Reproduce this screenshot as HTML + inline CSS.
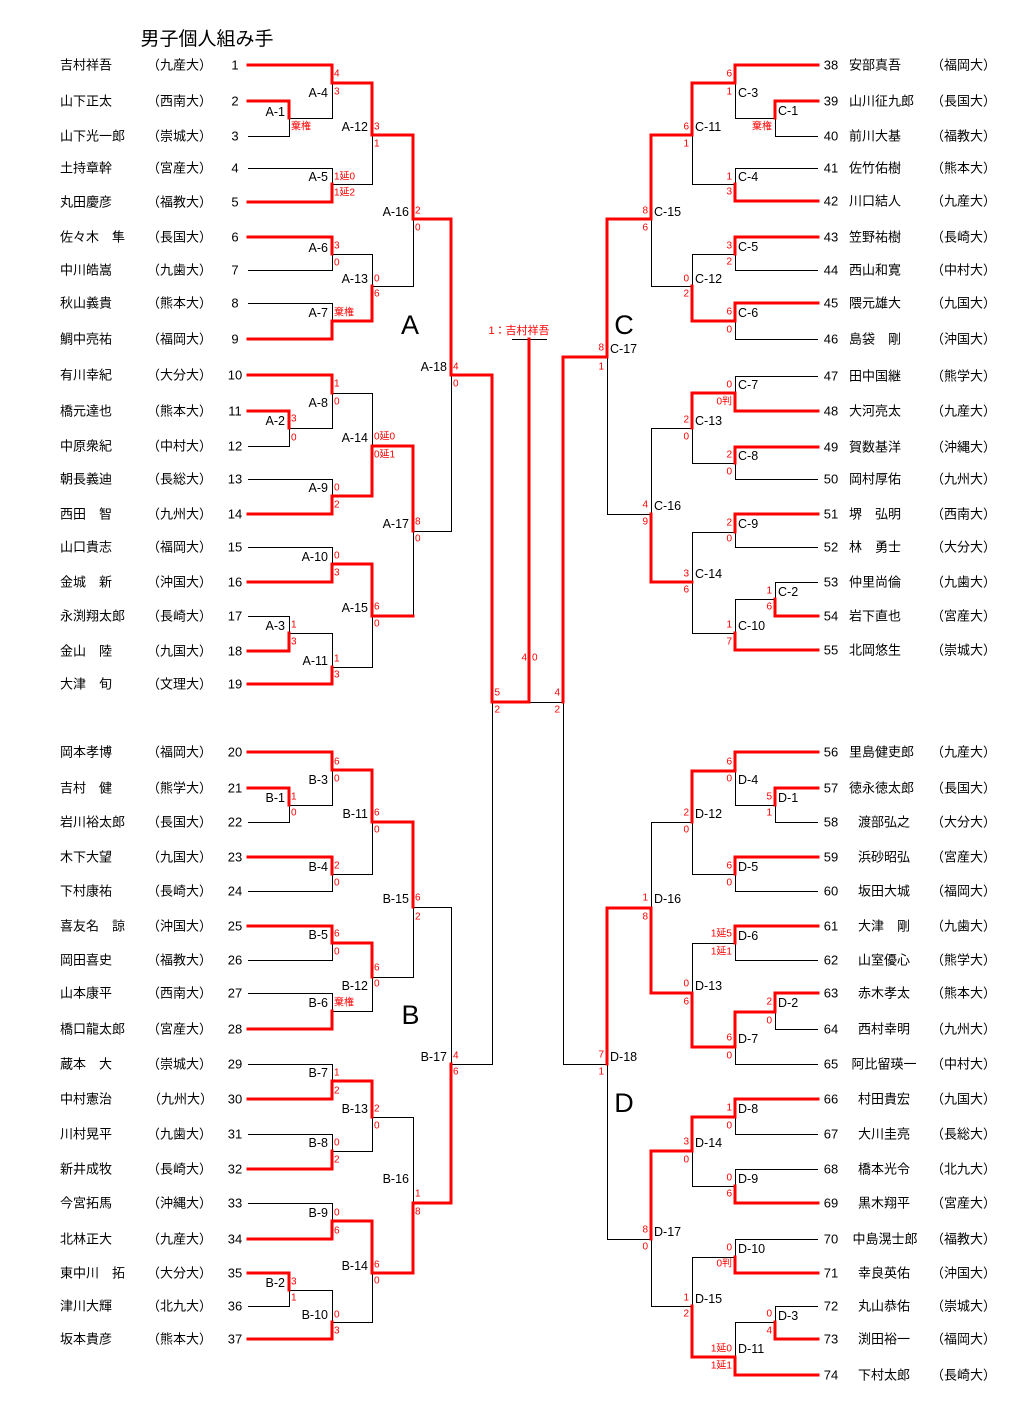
<!DOCTYPE html>
<html><head><meta charset="utf-8"><style>
html,body{margin:0;padding:0;background:#fff;}
svg{display:block;}
text{dominant-baseline:central;font-family:"Liberation Sans","Noto Sans CJK JP",sans-serif;}
.n{font-size:13px;fill:#000;}
.num{font-size:13px;text-anchor:middle;fill:#000;}
.lb{font-size:12.5px;fill:#000;}
.le{font-size:12.5px;text-anchor:end;fill:#000;}
.s,.s text{font-size:10px;fill:#f00;}
.se,.se text{font-size:10px;fill:#f00;text-anchor:end;}
.big{font-size:27px;text-anchor:middle;fill:#000;}
.k{fill:none;stroke:#000;stroke-width:1;}
.r{fill:none;stroke:#f00;stroke-width:3;stroke-linecap:square;stroke-linejoin:miter;}
</style></head><body>
<svg width="1028" height="1420" viewBox="0 0 1028 1420" xmlns="http://www.w3.org/2000/svg">
<rect width="1028" height="1420" fill="#fff"/>
<text x="140.5" y="39.5" style="font-size:19px;fill:#000">男子個人組み手</text>

<!-- black lines -->
<path class="k" d="
M248 136.5H289.5V118.5H332.5V83.5
M248 168.5H332.5V184.5H372.5V135.5
M248 270.5H332.5V254.5H372.5V286.5H413.5V219.5
M248 303.5H332.5V321.5
M248 446.5H289.5V428.5H332.5V393.5H372.5V446.5
M248 479.5H332.5V496.5
M248 547.5H332.5V564.5
M248 616.5H289.5V633.5H332.5V667.5H372.5V616.5
M413.5 616.5V531.5H451.5V375.5
M492.5 702V1064.5H451.5V907.5H413.5V977.5H372.5V1011.5H332.5V993.5H248
M529 702.5H563.5V1064.5H607.5V1239.5H651.5V1306.5H692.5V1257.5H735.5V1239.5H818
M248 822.5H289.5V805.5H332.5V770.5
M248 891.5H332.5V874.5H372.5V822.5
M248 960.5H332.5V943.5
M248 1064.5H332.5V1081.5
M248 1134.5H332.5V1151.5H372.5V1117.5H413.5V1203.5
M248 1203.5H332.5V1221.5
M248 1306.5H289.5V1290.5H332.5V1322.5H372.5V1273.5
M818 136.5H775.5V118.5H735.5V83.5
M818 168.5H735.5V184.5H692.5V135.5
M818 270.5H735.5V254.5H692.5V286.5H651.5V219.5
M818 339.5H735.5V321.5
M818 376.5H735.5V393.5
M818 479.5H735.5V463.5H692.5V428.5H651.5V514.5H607.5V357.5
M818 547.5H735.5V532.5H692.5V633.5H735.5V599.5H775.5V582.5H818
M818 822.5H775.5V805.5H735.5V771.5
M818 891.5H735.5V874.5H692.5V822.5H651.5V908.5
M818 960.5H735.5V943.5H692.5V993.5
M818 1029.5H775.5V1012.5
M818 1064.5H735.5V1047.5
M818 1134.5H735.5V1117.5
M818 1169.5H735.5V1186.5H692.5V1151.5
M818 1306.5H775.5V1322.5H735.5V1357.5
M512 339.5H547
"/>

<!-- red lines -->
<path class="r" d="
M248 65H332V83H372V135H413V219H451V375H492V702H529
M529 339V702
M563 702V357H607V219H651V135H692V83H735V65H818
M248 101H289V118
M248 202H332V184
M248 237H332V254
M248 339H332V321H372V286
M248 375H332V393
M248 411H289V428
M248 514H332V496H372V446H413V531
M248 582H332V564H372V616H413
M248 651H289V633
M248 684H332V667
M248 752H332V770H372V822H413V907
M248 788H289V805
M248 857H332V874
M248 926H332V943H372V977
M248 1029H332V1011
M248 1099H332V1081H372V1117
M248 1169H332V1151
M248 1239H332V1221H372V1273H413V1203H451V1064
M248 1273H289V1290
M248 1339H332V1322
M818 101H775V118
M818 201H735V184
M818 237H735V254
M818 303H735V321H692V286
M818 411H735V393H692V428
M818 447H735V463
M818 514H735V532
M818 616H775V599
M818 650H735V633
M692 582H651V514
M818 752H735V771H692V822
M818 788H775V805
M818 857H735V874
M818 926H735V943
M818 993H775V1012H735V1047H692V993H651V908H607V1064
M818 1099H735V1117H692V1151H651V1239
M818 1203H735V1186
M818 1273H735V1257
M818 1339H775V1322
M818 1375H735V1357H692V1306
"/>

<!-- big letters -->
<text class="big" x="410" y="325">A</text>
<text class="big" x="410.5" y="1015">B</text>
<text class="big" x="624" y="325">C</text>
<text class="big" x="624" y="1103">D</text>

<!-- winner -->
<text x="519" y="331" style="font-size:11px;fill:#f00;text-anchor:middle">1：吉村祥吾</text>
<text class="se" x="527" y="658">4</text><text class="s" x="532" y="658">0</text>
<text class="s" x="494.5" y="693">5</text><text class="s" x="494.5" y="710">2</text>
<text class="se" x="560" y="693">4</text><text class="se" x="560" y="710">2</text>

<!-- left names -->
<g class="n">
<text x="60" y="65">吉村祥吾</text><text x="147" y="65">（九産大）</text>
<text x="60" y="101">山下正太</text><text x="147" y="101">（西南大）</text>
<text x="60" y="136">山下光一郎</text><text x="147" y="136">（崇城大）</text>
<text x="60" y="168">土持章幹</text><text x="147" y="168">（宮産大）</text>
<text x="60" y="202">丸田慶彦</text><text x="147" y="202">（福教大）</text>
<text x="60" y="237">佐々木　隼</text><text x="147" y="237">（長国大）</text>
<text x="60" y="270">中川皓嵩</text><text x="147" y="270">（九歯大）</text>
<text x="60" y="303">秋山義貴</text><text x="147" y="303">（熊本大）</text>
<text x="60" y="339">鯛中亮祐</text><text x="147" y="339">（福岡大）</text>
<text x="60" y="375">有川幸紀</text><text x="147" y="375">（大分大）</text>
<text x="60" y="411">橋元達也</text><text x="147" y="411">（熊本大）</text>
<text x="60" y="446">中原衆紀</text><text x="147" y="446">（中村大）</text>
<text x="60" y="479">朝長義迪</text><text x="147" y="479">（長総大）</text>
<text x="60" y="514">西田　智</text><text x="147" y="514">（九州大）</text>
<text x="60" y="547">山口貴志</text><text x="147" y="547">（福岡大）</text>
<text x="60" y="582">金城　新</text><text x="147" y="582">（沖国大）</text>
<text x="60" y="616">永渕翔太郎</text><text x="147" y="616">（長崎大）</text>
<text x="60" y="651">金山　陸</text><text x="147" y="651">（九国大）</text>
<text x="60" y="684">大津　旬</text><text x="147" y="684">（文理大）</text>
<text x="60" y="752">岡本孝博</text><text x="147" y="752">（福岡大）</text>
<text x="60" y="788">吉村　健</text><text x="147" y="788">（熊学大）</text>
<text x="60" y="822">岩川裕太郎</text><text x="147" y="822">（長国大）</text>
<text x="60" y="857">木下大望</text><text x="147" y="857">（九国大）</text>
<text x="60" y="891">下村康祐</text><text x="147" y="891">（長崎大）</text>
<text x="60" y="926">喜友名　諒</text><text x="147" y="926">（沖国大）</text>
<text x="60" y="960">岡田喜史</text><text x="147" y="960">（福教大）</text>
<text x="60" y="993">山本康平</text><text x="147" y="993">（西南大）</text>
<text x="60" y="1029">橋口龍太郎</text><text x="147" y="1029">（宮産大）</text>
<text x="60" y="1064">蔵本　大</text><text x="147" y="1064">（崇城大）</text>
<text x="60" y="1099">中村憲治</text><text x="148" y="1099">（九州大）</text>
<text x="60" y="1134">川村晃平</text><text x="147" y="1134">（九歯大）</text>
<text x="60" y="1169">新井成牧</text><text x="147" y="1169">（長崎大）</text>
<text x="60" y="1203">今宮拓馬</text><text x="147" y="1203">（沖縄大）</text>
<text x="60" y="1239">北林正大</text><text x="147" y="1239">（九産大）</text>
<text x="60" y="1273">東中川　拓</text><text x="147" y="1273">（大分大）</text>
<text x="60" y="1306">津川大輝</text><text x="147" y="1306">（北九大）</text>
<text x="60" y="1339">坂本貴彦</text><text x="147" y="1339">（熊本大）</text>
</g>
<g class="num">
<text x="235" y="65">1</text><text x="235" y="101">2</text><text x="235" y="136">3</text><text x="235" y="168">4</text><text x="235" y="202">5</text><text x="235" y="237">6</text><text x="235" y="270">7</text><text x="235" y="303">8</text><text x="235" y="339">9</text><text x="235" y="375">10</text><text x="235" y="411">11</text><text x="235" y="446">12</text><text x="235" y="479">13</text><text x="235" y="514">14</text><text x="235" y="547">15</text><text x="235" y="582">16</text><text x="235" y="616">17</text><text x="235" y="651">18</text><text x="235" y="684">19</text>
<text x="235" y="752">20</text><text x="235" y="788">21</text><text x="235" y="822">22</text><text x="235" y="857">23</text><text x="235" y="891">24</text><text x="235" y="926">25</text><text x="235" y="960">26</text><text x="235" y="993">27</text><text x="235" y="1029">28</text><text x="235" y="1064">29</text><text x="235" y="1099">30</text><text x="235" y="1134">31</text><text x="235" y="1169">32</text><text x="235" y="1203">33</text><text x="235" y="1239">34</text><text x="235" y="1273">35</text><text x="235" y="1306">36</text><text x="235" y="1339">37</text>
<text x="831" y="65">38</text><text x="831" y="101">39</text><text x="831" y="136">40</text><text x="831" y="168">41</text><text x="831" y="201">42</text><text x="831" y="237">43</text><text x="831" y="270">44</text><text x="831" y="303">45</text><text x="831" y="339">46</text><text x="831" y="376">47</text><text x="831" y="411">48</text><text x="831" y="447">49</text><text x="831" y="479">50</text><text x="831" y="514">51</text><text x="831" y="547">52</text><text x="831" y="582">53</text><text x="831" y="616">54</text><text x="831" y="650">55</text>
<text x="831" y="752">56</text><text x="831" y="788">57</text><text x="831" y="822">58</text><text x="831" y="857">59</text><text x="831" y="891">60</text><text x="831" y="926">61</text><text x="831" y="960">62</text><text x="831" y="993">63</text><text x="831" y="1029">64</text><text x="831" y="1064">65</text><text x="831" y="1099">66</text><text x="831" y="1134">67</text><text x="831" y="1169">68</text><text x="831" y="1203">69</text><text x="831" y="1239">70</text><text x="831" y="1273">71</text><text x="831" y="1306">72</text><text x="831" y="1339">73</text><text x="831" y="1375">74</text>
</g>

<!-- right names -->
<g class="n">
<text x="849" y="65">安部真吾</text><text x="931" y="65">（福岡大）</text>
<text x="849" y="101">山川征九郎</text><text x="931" y="101">（長国大）</text>
<text x="849" y="136">前川大基</text><text x="931" y="136">（福教大）</text>
<text x="849" y="168">佐竹佑樹</text><text x="931" y="168">（熊本大）</text>
<text x="849" y="201">川口結人</text><text x="931" y="201">（九産大）</text>
<text x="849" y="237">笠野祐樹</text><text x="931" y="237">（長崎大）</text>
<text x="849" y="270">西山和寛</text><text x="931" y="270">（中村大）</text>
<text x="849" y="303">隈元雄大</text><text x="931" y="303">（九国大）</text>
<text x="849" y="339">島袋　剛</text><text x="931" y="339">（沖国大）</text>
<text x="849" y="376">田中国継</text><text x="931" y="376">（熊学大）</text>
<text x="849" y="411">大河亮太</text><text x="931" y="411">（九産大）</text>
<text x="849" y="447">賀数基洋</text><text x="931" y="447">（沖縄大）</text>
<text x="849" y="479">岡村厚佑</text><text x="931" y="479">（九州大）</text>
<text x="849" y="514">堺　弘明</text><text x="931" y="514">（西南大）</text>
<text x="849" y="547">林　勇士</text><text x="931" y="547">（大分大）</text>
<text x="849" y="582">仲里尚倫</text><text x="931" y="582">（九歯大）</text>
<text x="849" y="616">岩下直也</text><text x="931" y="616">（宮産大）</text>
<text x="849" y="650">北岡悠生</text><text x="931" y="650">（崇城大）</text>
<text x="849" y="752">里島健吏郎</text><text x="931" y="752">（九産大）</text>
<text x="849" y="788">徳永徳太郎</text><text x="931" y="788">（長国大）</text>
<text x="931" y="822">（大分大）</text>
<text x="931" y="857">（宮産大）</text>
<text x="931" y="891">（福岡大）</text>
<text x="931" y="926">（九歯大）</text>
<text x="931" y="960">（熊学大）</text>
<text x="931" y="993">（熊本大）</text>
<text x="931" y="1029">（九州大）</text>
<text x="931" y="1064">（中村大）</text>
<text x="931" y="1099">（九国大）</text>
<text x="931" y="1134">（長総大）</text>
<text x="931" y="1169">（北九大）</text>
<text x="931" y="1203">（宮産大）</text>
<text x="931" y="1239">（福教大）</text>
<text x="931" y="1273">（沖国大）</text>
<text x="931" y="1306">（崇城大）</text>
<text x="931" y="1339">（福岡大）</text>
<text x="931" y="1375">（長崎大）</text>
</g>
<g class="n" style="text-anchor:middle">
<text x="884" y="822">渡部弘之</text>
<text x="884" y="857">浜砂昭弘</text>
<text x="884" y="891">坂田大城</text>
<text x="884" y="926">大津　剛</text>
<text x="884" y="960">山室優心</text>
<text x="884" y="993">赤木孝太</text>
<text x="884" y="1029">西村幸明</text>
<text x="884" y="1064">阿比留瑛一</text>
<text x="884" y="1099">村田貴宏</text>
<text x="884" y="1134">大川圭亮</text>
<text x="884" y="1169">橋本光令</text>
<text x="884" y="1203">黒木翔平</text>
<text x="885" y="1239">中島滉士郎</text>
<text x="884" y="1273">幸良英佑</text>
<text x="884" y="1306">丸山恭佑</text>
<text x="884" y="1339">渕田裕一</text>
<text x="884" y="1375">下村太郎</text>
</g>

<!-- left labels -->
<g class="le">
<text x="285" y="112">A-1</text><text x="328" y="93">A-4</text><text x="368" y="127">A-12</text><text x="328" y="177">A-5</text><text x="409" y="212">A-16</text><text x="328" y="248">A-6</text><text x="368" y="279">A-13</text><text x="328" y="313">A-7</text><text x="447" y="367">A-18</text><text x="328" y="403">A-8</text><text x="285" y="421">A-2</text><text x="368" y="438">A-14</text><text x="328" y="488">A-9</text><text x="409" y="524">A-17</text><text x="328" y="557">A-10</text><text x="368" y="608">A-15</text><text x="285" y="626">A-3</text><text x="328" y="661">A-11</text>
<text x="328" y="780">B-3</text><text x="285" y="798">B-1</text><text x="368" y="814">B-11</text><text x="328" y="867">B-4</text><text x="409" y="899">B-15</text><text x="328" y="935">B-5</text><text x="368" y="986">B-12</text><text x="328" y="1003">B-6</text><text x="447" y="1057">B-17</text><text x="328" y="1073">B-7</text><text x="368" y="1109">B-13</text><text x="328" y="1143">B-8</text><text x="409" y="1179">B-16</text><text x="328" y="1213">B-9</text><text x="368" y="1266">B-14</text><text x="285" y="1283">B-2</text><text x="328" y="1315">B-10</text>
</g>
<!-- right labels -->
<g class="lb">
<text x="738" y="93">C-3</text><text x="778" y="111">C-1</text><text x="695" y="127">C-11</text><text x="738" y="177">C-4</text><text x="654" y="212">C-15</text><text x="738" y="247">C-5</text><text x="695" y="279">C-12</text><text x="738" y="313">C-6</text><text x="610" y="349">C-17</text><text x="738" y="385">C-7</text><text x="695" y="421">C-13</text><text x="738" y="456">C-8</text><text x="654" y="506">C-16</text><text x="738" y="524">C-9</text><text x="695" y="574">C-14</text><text x="778" y="592">C-2</text><text x="738" y="626">C-10</text>
<text x="738" y="780">D-4</text><text x="778" y="798">D-1</text><text x="695" y="814">D-12</text><text x="738" y="867">D-5</text><text x="654" y="899">D-16</text><text x="738" y="936">D-6</text><text x="695" y="986">D-13</text><text x="778" y="1003">D-2</text><text x="738" y="1039">D-7</text><text x="610" y="1057">D-18</text><text x="738" y="1109">D-8</text><text x="695" y="1143">D-14</text><text x="738" y="1179">D-9</text><text x="654" y="1232">D-17</text><text x="738" y="1249">D-10</text><text x="695" y="1299">D-15</text><text x="778" y="1316">D-3</text><text x="738" y="1349">D-11</text>
</g>

<!-- left scores -->
<g class="s">
<text x="291" y="127">棄権</text>
<text x="334" y="74">4</text><text x="334" y="92">3</text>
<text x="374" y="127">3</text><text x="374" y="144">1</text>
<text x="334" y="177">1延0</text><text x="334" y="193">1延2</text>
<text x="415" y="211">2</text><text x="415" y="228">0</text>
<text x="334" y="246">3</text><text x="334" y="263">0</text>
<text x="374" y="279">0</text><text x="374" y="294">6</text>
<text x="334" y="313">棄権</text>
<text x="453" y="367">4</text><text x="453" y="384">0</text>
<text x="334" y="384">1</text><text x="334" y="402">0</text>
<text x="291" y="419">3</text><text x="291" y="438">0</text>
<text x="374" y="437">0延0</text><text x="374" y="455">0延1</text>
<text x="334" y="488">0</text><text x="334" y="505">2</text>
<text x="415" y="522">8</text><text x="415" y="539">0</text>
<text x="334" y="556">0</text><text x="334" y="573">3</text>
<text x="374" y="607">6</text><text x="374" y="624">0</text>
<text x="291" y="625">1</text><text x="291" y="642">3</text>
<text x="334" y="659">1</text><text x="334" y="675">3</text>
<text x="334" y="762">6</text><text x="334" y="779">0</text>
<text x="291" y="797">1</text><text x="291" y="813">0</text>
<text x="374" y="813">6</text><text x="374" y="830">0</text>
<text x="334" y="866">2</text><text x="334" y="883">0</text>
<text x="415" y="898">6</text><text x="415" y="917">2</text>
<text x="334" y="934">6</text><text x="334" y="952">0</text>
<text x="374" y="968">6</text><text x="374" y="984">0</text>
<text x="334" y="1003">棄権</text>
<text x="453" y="1056">4</text><text x="453" y="1072">6</text>
<text x="334" y="1073">1</text><text x="334" y="1091">2</text>
<text x="374" y="1109">2</text><text x="374" y="1126">0</text>
<text x="334" y="1143">0</text><text x="334" y="1160">2</text>
<text x="415" y="1194">1</text><text x="415" y="1212">8</text>
<text x="334" y="1213">0</text><text x="334" y="1231">6</text>
<text x="374" y="1265">6</text><text x="374" y="1281">0</text>
<text x="291" y="1282">3</text><text x="291" y="1298">1</text>
<text x="334" y="1315">0</text><text x="334" y="1331">3</text>
</g>
<!-- right scores -->
<g class="se">
<text x="732" y="74">6</text><text x="732" y="92">1</text>
<text x="772" y="127">棄権</text>
<text x="689" y="127">6</text><text x="689" y="144">1</text>
<text x="732" y="177">1</text><text x="732" y="192">3</text>
<text x="648" y="211">8</text><text x="648" y="228">6</text>
<text x="732" y="246">3</text><text x="732" y="262">2</text>
<text x="689" y="279">0</text><text x="689" y="294">2</text>
<text x="732" y="312">6</text><text x="732" y="330">0</text>
<text x="604" y="348">8</text><text x="604" y="367">1</text>
<text x="732" y="385">0</text><text x="732" y="402">0判</text>
<text x="689" y="420">2</text><text x="689" y="437">0</text>
<text x="732" y="455">2</text><text x="732" y="472">0</text>
<text x="648" y="505">4</text><text x="648" y="522">9</text>
<text x="732" y="523">2</text><text x="732" y="539">0</text>
<text x="689" y="574">3</text><text x="689" y="590">6</text>
<text x="772" y="591">1</text><text x="772" y="607">6</text>
<text x="732" y="625">1</text><text x="732" y="642">7</text>
<text x="732" y="762">6</text><text x="732" y="779">0</text>
<text x="772" y="797">5</text><text x="772" y="813">1</text>
<text x="689" y="813">2</text><text x="689" y="830">0</text>
<text x="732" y="866">6</text><text x="732" y="883">0</text>
<text x="648" y="898">1</text><text x="648" y="917">8</text>
<text x="732" y="934">1延5</text><text x="732" y="952">1延1</text>
<text x="689" y="984">0</text><text x="689" y="1002">6</text>
<text x="772" y="1002">2</text><text x="772" y="1021">0</text>
<text x="732" y="1038">6</text><text x="732" y="1056">0</text>
<text x="604" y="1055">7</text><text x="604" y="1072">1</text>
<text x="732" y="1108">1</text><text x="732" y="1126">0</text>
<text x="689" y="1142">3</text><text x="689" y="1160">0</text>
<text x="732" y="1178">0</text><text x="732" y="1194">6</text>
<text x="648" y="1230">8</text><text x="648" y="1247">0</text>
<text x="732" y="1248">0</text><text x="732" y="1264">0判</text>
<text x="689" y="1298">1</text><text x="689" y="1314">2</text>
<text x="772" y="1314">0</text><text x="772" y="1331">4</text>
<text x="732" y="1349">1延0</text><text x="732" y="1366">1延1</text>
</g>
</svg>
</body></html>
